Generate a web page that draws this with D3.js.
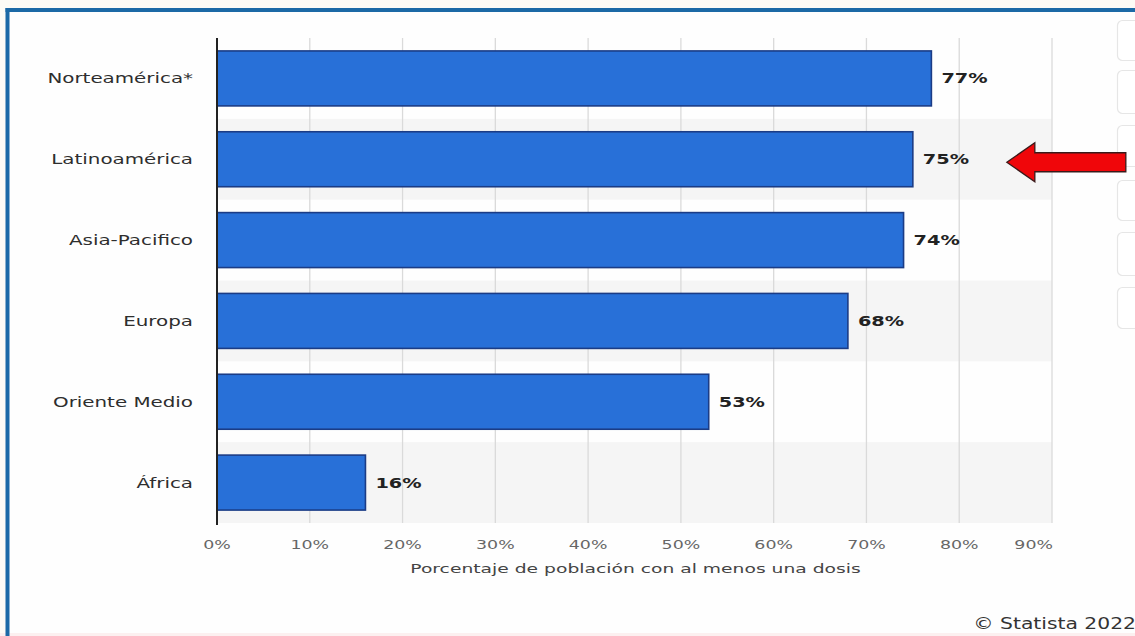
<!DOCTYPE html>
<html>
<head>
<meta charset="utf-8">
<script src="https://cdn.jsdelivr.net/npm/d3@7"></script>
<style>
  html, body { margin: 0; padding: 0; background: #fdfbf6; }
  svg { display: block; }
  text { font-family: "DejaVu Sans", sans-serif; }
</style>
</head>
<body>
<svg id="chart" width="1135" height="636"></svg>
<script>
const categories = ["Norteamérica*", "Latinoamérica", "Asia-Pacifico", "Europa", "Oriente Medio", "África"];
const values = [77, 75, 74, 68, 53, 16];
const tickValues = [0, 10, 20, 30, 40, 50, 60, 70, 80, 90];
const tickLabels = ["0%", "10%", "20%", "30%", "40%", "50%", "60%", "70%", "80%", "90%"];
const axisTitle = "Porcentaje de población con al menos una dosis";
const credit = "© Statista 2022";
const highlighted = "Latinoamérica";

const W = 1135, H = 636;
const svg = d3.select("#chart");

// frame
svg.append("rect").attr("x", 0).attr("y", 0).attr("width", W).attr("height", H).attr("fill", "#fdfbf6");
svg.append("rect").attr("x", 8).attr("y", 10).attr("width", W).attr("height", H).attr("fill", "#fefefe");
svg.append("rect").attr("x", 0).attr("y", 633).attr("width", W).attr("height", 3).attr("fill", "#fcf0f0");
svg.append("line").attr("x1", 7.5).attr("x2", 7.5).attr("y1", 8).attr("y2", H).attr("stroke", "#1c69a6").attr("stroke-width", 4);
svg.append("line").attr("x1", 5.5).attr("x2", W).attr("y1", 10).attr("y2", 10).attr("stroke", "#1c69a6").attr("stroke-width", 4);

const plot = { left: 217, right: 1052, top: 38, bottom: 523 };

const x = d3.scaleLinear().domain([0, 90]).range([plot.left, plot.right]);
const y = d3.scaleBand().domain(categories).range([plot.top, plot.bottom]).paddingInner(0.32).paddingOuter(0.16);
const step = y.step();

// alternating row bands
svg.append("g").selectAll("rect").data(categories.filter((c, i) => i % 2 === 1)).join("rect")
  .attr("x", plot.left).attr("width", plot.right - plot.left)
  .attr("y", d => y(d) + y.bandwidth() / 2 - step / 2)
  .attr("height", step)
  .attr("fill", "#f5f5f5");

// gridlines
svg.append("g").selectAll("line").data(tickValues.filter(v => v > 0)).join("line")
  .attr("x1", d => x(d)).attr("x2", d => x(d))
  .attr("y1", plot.top).attr("y2", plot.bottom)
  .attr("stroke", "#dadada").attr("stroke-width", 1.3);

// bars
svg.append("g").selectAll("rect").data(values).join("rect")
  .attr("x", x(0))
  .attr("y", (d, i) => y(categories[i]))
  .attr("width", d => x(d) - x(0))
  .attr("height", y.bandwidth())
  .attr("fill", "#2870d8")
  .attr("stroke", "#1b3c86")
  .attr("stroke-width", 1.6);

// left axis line
svg.append("line").attr("x1", plot.left).attr("x2", plot.left)
  .attr("y1", plot.top).attr("y2", plot.bottom + 2)
  .attr("stroke", "#222").attr("stroke-width", 2);

function stext(g, tx, ty, str, anchor, size, weight, fill, sx) {
  return g.append("text")
    .attr("transform", `translate(${tx},${ty}) scale(${sx},1)`)
    .attr("text-anchor", anchor)
    .attr("font-size", size)
    .attr("font-weight", weight)
    .attr("fill", fill)
    .text(str);
}

// category labels
const catG = svg.append("g");
categories.forEach(c => {
  stext(catG, plot.left - 24, y(c) + y.bandwidth() / 2 + 5, c, "end", 14.5, "normal", "#2e2e2e", 1.37);
});

// value labels
const valG = svg.append("g");
values.forEach((v, i) => {
  stext(valG, x(v) + 10, y(categories[i]) + y.bandwidth() / 2 + 5, v + "%", "start", 13.5, "bold", "#222", 1.43);
});

// tick labels (last one kept inside the plot edge)
const tickG = svg.append("g");
tickValues.forEach((v, i) => {
  const last = i === tickValues.length - 1;
  stext(tickG, last ? x(v) + 1 : x(v), 549, tickLabels[i], last ? "end" : "middle", 12, "normal", "#666", 1.45);
});

// axis title
stext(svg, (plot.left + plot.right) / 2 + 1, 573, axisTitle, "middle", 13, "normal", "#444", 1.44);

// credit
stext(svg, W + 1, 629, credit, "end", 15.5, "normal", "#333", 1.31);

// right side panel buttons
const btnY = [[20, 60], [70, 113], [125, 166], [180, 220], [232, 275], [287, 328]];
svg.append("g").selectAll("rect").data(btnY).join("rect")
  .attr("x", 1117.5).attr("width", 30)
  .attr("y", d => d[0] + 0.5).attr("height", d => d[1] - d[0])
  .attr("rx", 5)
  .attr("fill", "#ffffff").attr("stroke", "#e6e6e6").attr("stroke-width", 1.2);

// red arrow pointing at highlighted row
const cy = y(highlighted) + y.bandwidth() / 2 + 3;
const tipX = x(values[categories.indexOf(highlighted)]) + 94;
const headW = 28, headH = 19.5, shaftH = 9.5, shaftEnd = tipX + 119;
const arrowPts = [
  [tipX, cy],
  [tipX + headW, cy - headH],
  [tipX + headW, cy - shaftH],
  [shaftEnd, cy - shaftH],
  [shaftEnd, cy + shaftH],
  [tipX + headW, cy + shaftH],
  [tipX + headW, cy + headH]
];
svg.append("polygon")
  .attr("points", arrowPts.map(p => p.join(",")).join(" "))
  .attr("fill", "#f0060a")
  .attr("stroke", "#3a1a1a")
  .attr("stroke-width", 1.3)
  .attr("stroke-linejoin", "miter");
</script>
</body>
</html>
